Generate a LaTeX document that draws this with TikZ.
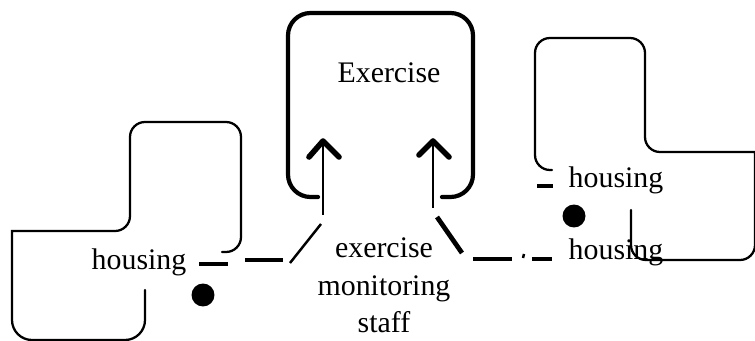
\documentclass[tikz,border=0pt]{standalone}
\usepackage{fontspec}
\setmainfont{Liberation Serif}
\tikzset{
    outline/.style={
        draw=black,
        line width=1.3pt,
        rounded corners=0.3cm,
        line cap=round
    },
    outlinebold/.style={
        draw=black,
        line width=2.4pt,
        rounded corners=0.45cm,
        line cap=round
    },
    labeltext/.style={
        font=\fontsize{17}{21.6}\selectfont,
        inner sep=0pt,
        anchor=base,
        align=center
    },
    linkdash/.style={
        draw=black,
        line width=1.9pt
    },
    linkslash/.style={
        draw=black,
        line width=1.4pt
    },
    linkbold/.style={
        draw=black,
        line width=2.7pt
    },
    linkshaft/.style={
        draw=black,
        line width=1.3pt
    },
    arrowbarb/.style={
        draw=black,
        line width=3.2pt,
        line cap=round,
        line join=round
    },
    dotmark/.style={
        circle,
        fill=black,
        inner sep=0pt,
        minimum size=0.46cm
    }
}

\begin{document}
\begin{tikzpicture}[x=0.02cm, y=-0.02cm]
        \useasboundingbox (0,0) rectangle (755,341);

        % outlines
        \draw[outline] (222,252) -- (241,252) -- (241,122) -- (130,122) -- (130,231)
            [sharp corners] -- (12,231) [rounded corners=0.4cm] -- (12,340) -- (145,340) -- (145,290);
        \draw[outline] (552,170) -- (535,170) -- (535,38) -- (645,38) -- (645,152)
            [sharp corners] -- (755,152) [rounded corners=0.3cm] -- (755,260) -- (631,260) -- (631,210);
        \draw[outlinebold] (318,197) -- (288,197) -- (288,13) -- (473,13) -- (473,197) -- (442,197);

        % labels
        \node[labeltext] (exerciseLabel) at (389,83) {Exercise};
        \node[labeltext] (staffLabel) at (384,333) {exercise\\monitoring\\staff};
        \node[labeltext] (housingLeft) at (139,270) {housing};
        \node[labeltext] (housingRightTop) at (616,188) {housing};
        \node[labeltext] (housingRightBottom) at (616,260) {housing};

        \node[dotmark] (dotLeft) at (203,295) {};
        \node[dotmark] (dotRight) at (574,216) {};

        % broken links
        \coordinate (leftDashA) at (199,264);
        \coordinate (leftDashB) at (228,264);
        \coordinate (leftDashC) at (245,260);
        \coordinate (leftDashD) at (283,260);
        \coordinate (leftSlashA) at (290,263);
        \coordinate (leftSlashB) at (321,224);
        \coordinate (rightSlashA) at (437,217);
        \coordinate (rightSlashB) at (462,253);
        \coordinate (rightDashA) at (473,259);
        \coordinate (rightDashB) at (512,259);
        \coordinate (rightTickA) at (524,254);
        \coordinate (rightTickB) at (523,258);
        \coordinate (rightDashC) at (532,259);
        \coordinate (rightDashD) at (552,259);
        \coordinate (topDashA) at (537,186);
        \coordinate (topDashB) at (553,186);
        \coordinate (arrowLeftFoot) at (323,215);
        \coordinate (arrowLeftTip) at (323,141);
        \coordinate (arrowRightFoot) at (433,208);
        \coordinate (arrowRightTip) at (433,141);

        \draw[linkdash] (leftDashA) -- (leftDashB);
        \draw[linkdash] (leftDashC) -- (leftDashD);
        \draw[linkslash] (leftSlashA) -- (leftSlashB);
        \draw[linkbold] (rightSlashA) -- (rightSlashB);
        \draw[linkdash] (rightDashA) -- (rightDashB);
        \draw[linkslash] (rightTickA) -- (rightTickB);
        \draw[linkdash] (rightDashC) -- (rightDashD);
        \draw[linkdash] (topDashA) -- (topDashB);

        % arrows into the exercise box
        \draw[linkshaft] (arrowLeftFoot) -- (arrowLeftTip);
        \draw[arrowbarb] ([xshift=-0.28cm,yshift=-0.32cm]arrowLeftTip) -- (arrowLeftTip)
            -- ([xshift=0.32cm,yshift=-0.32cm]arrowLeftTip);
        \draw[linkshaft] (arrowRightFoot) -- (arrowRightTip);
        \draw[arrowbarb] ([xshift=-0.28cm,yshift=-0.28cm]arrowRightTip) -- (arrowRightTip)
            -- ([xshift=0.32cm,yshift=-0.32cm]arrowRightTip);
    \end{tikzpicture}
\end{document}
